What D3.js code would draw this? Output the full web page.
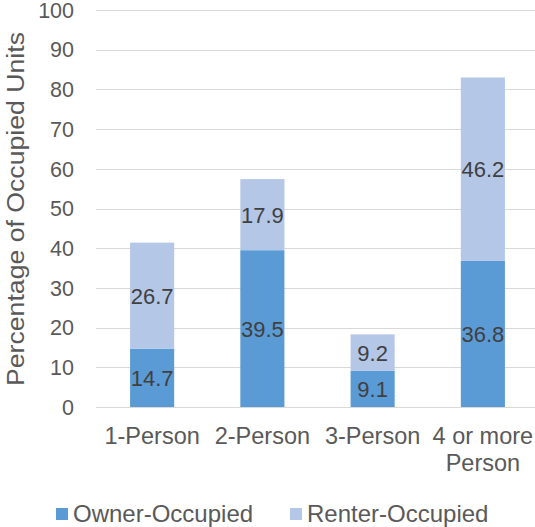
<!DOCTYPE html>
<meta charset="utf-8">
<style>
    body { margin: 0; background: #fff; }
    text { font-family: "Liberation Sans", Arial, sans-serif; }
    .grid line { stroke: #d9d9d9; stroke-width: 1; }
</style>

<svg width="535" height="527"></svg>

<script src="https://d3js.org/d3.v7.min.js"></script>

<script>
    var categories = ["1-Person", "2-Person", "3-Person", "4 or more|Person"];
    var owner = [14.7, 39.5, 9.1, 36.8];
    var renter = [26.7, 17.9, 9.2, 46.2];
    var yTicks = [0, 10, 20, 30, 40, 50, 60, 70, 80, 90, 100];
    var seriesNames = ["Owner-Occupied", "Renter-Occupied"];
    var colors = ["#5b9bd5", "#b4c7e7"];

    var svg = d3.select("svg");

    var x = d3.scaleBand()
            .domain(categories)
            .range([97, 538])
            .paddingInner(0.6)
            .paddingOuter(0.3);

    var y = d3.scaleLinear()
            .domain([0, 100])
            .range([407, 10]);

    // gridlines
    svg.append("g")
            .attr("class", "grid")
            .selectAll("line")
            .data(yTicks)
            .enter().append("line")
            .attr("x1", 96)
            .attr("x2", 535)
            .attr("y1", function (d) { return Math.round(y(d)) + 0.5; })
            .attr("y2", function (d) { return Math.round(y(d)) + 0.5; });

    // y tick labels
    svg.append("g")
            .selectAll("text")
            .data(yTicks)
            .enter().append("text")
            .attr("x", 74)
            .attr("y", function (d) { return y(d); })
            .attr("dy", "0.36em")
            .attr("text-anchor", "end")
            .attr("font-size", 21.5)
            .attr("fill", "#595959")
            .text(function (d) { return d; });

    // stacked bars
    var rows = categories.map(function (c, i) {
        return {cat: c, owner: owner[i], renter: renter[i]};
    });
    var stack = d3.stack().keys(["owner", "renter"])(rows);

    var layer = svg.append("g")
            .selectAll("g")
            .data(stack)
            .enter().append("g")
            .attr("fill", function (d, i) { return colors[i]; });

    layer.selectAll("rect")
            .data(function (d) { return d; })
            .enter().append("rect")
            .attr("x", function (d) { return x(d.data.cat); })
            .attr("width", x.bandwidth())
            .attr("y", function (d) { return y(d[1]); })
            .attr("height", function (d) { return y(d[0]) - y(d[1]); });

    // data labels
    layer.selectAll("text")
            .data(function (d) { return d; })
            .enter().append("text")
            .attr("x", function (d) { return x(d.data.cat) + x.bandwidth() / 2; })
            .attr("y", function (d) { return y((d[0] + d[1]) / 2); })
            .attr("dy", "0.36em")
            .attr("text-anchor", "middle")
            .attr("font-size", 22)
            .attr("fill", "#404040")
            .text(function (d) { return (d[1] - d[0]).toFixed(1); });

    // category labels
    var catLabel = svg.append("g")
            .selectAll("text")
            .data(categories)
            .enter().append("text")
            .attr("text-anchor", "middle")
            .attr("font-size", 23.5)
            .attr("fill", "#595959")
            .attr("transform", function (d) {
                return "translate(" + (x(d) + x.bandwidth() / 2) + ",444)";
            });
    catLabel.selectAll("tspan")
            .data(function (d) { return d.split("|"); })
            .enter().append("tspan")
            .attr("x", 0)
            .attr("y", function (d, i) { return i * 27; })
            .text(function (d) { return d; });

    // y axis title
    svg.append("text")
            .attr("transform", "translate(24,209) rotate(-90)")
            .attr("text-anchor", "middle")
            .attr("font-size", 23)
            .attr("fill", "#595959")
            .attr("textLength", 354)
            .attr("lengthAdjust", "spacingAndGlyphs")
            .text("Percentage of Occupied Units");

    // legend
    var legendX = [56, 290];
    var legend = svg.append("g")
            .selectAll("g")
            .data(seriesNames)
            .enter().append("g")
            .attr("transform", function (d, i) { return "translate(" + legendX[i] + ",508)"; });
    legend.append("rect")
            .attr("width", 12)
            .attr("height", 12)
            .attr("fill", function (d, i) { return colors[i]; });
    legend.append("text")
            .attr("x", 17)
            .attr("y", 14)
            .attr("font-size", 24)
            .attr("fill", "#595959")
            .text(function (d) { return d; });
</script>
